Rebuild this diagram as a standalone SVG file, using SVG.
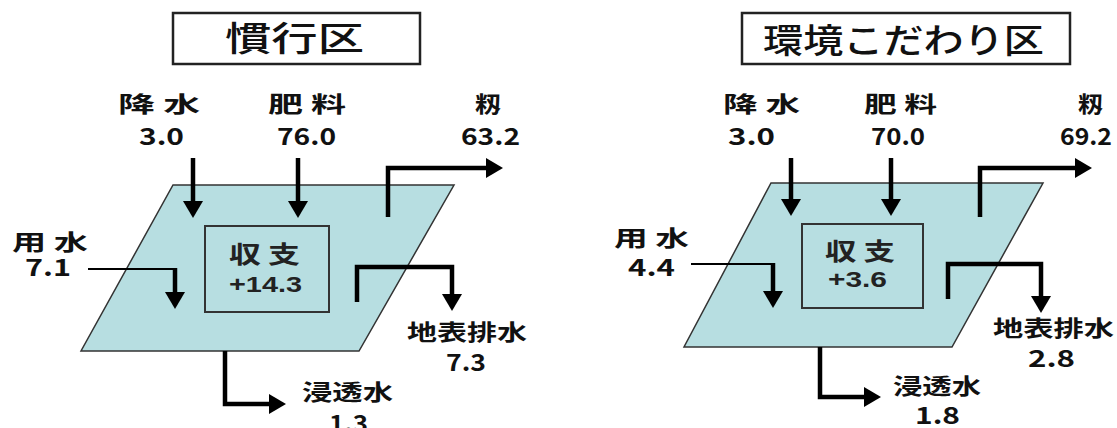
<svg xmlns="http://www.w3.org/2000/svg" width="1117" height="428" viewBox="0 0 1117 428">
<style>
.title{font-family:"Noto Sans CJK JP","Noto Sans",sans-serif;font-size:34px;font-weight:500;fill:#111}
.lbl{font-family:"Noto Sans CJK JP","Noto Sans",sans-serif;font-size:22px;font-weight:700;fill:#111}
.num{font-family:"Noto Sans CJK JP","Noto Sans",sans-serif;font-size:23px;font-weight:700;fill:#111}
.bal{font-family:"Noto Sans CJK JP","Noto Sans",sans-serif;font-size:24px;font-weight:700;fill:#222}
.balnum{font-family:"Liberation Sans",Arial,sans-serif;font-size:22px;font-weight:700;fill:#222}
.tbox{fill:#fff;stroke:#222;stroke-width:2.5}
.field{fill:#b7dee1;stroke:#333;stroke-width:1.5}
.ibox{fill:none;stroke:#333;stroke-width:2}
.arr{fill:none;stroke:#000;stroke-width:4.5;stroke-linejoin:miter;marker-end:url(#ah)}
.thin{fill:none;stroke:#000;stroke-width:2.2}
</style>
<defs>
<marker id="ah" markerUnits="userSpaceOnUse" markerWidth="18" markerHeight="20" refX="1" refY="10" orient="auto">
<path d="M0,0 L17,10 L0,20 z" fill="#000"/>
</marker>
</defs>

<g id="left-title">
<rect class="tbox" x="173" y="13" width="247" height="51"/>
<text class="title" x="225" y="51" textLength="139" lengthAdjust="spacingAndGlyphs">慣行区</text>
</g>
<g id="left-field">
<polygon class="field" points="173,185 454,185 359,351 81,351"/>
</g>
<g id="left-balance">
<rect class="ibox" x="205" y="226" width="124" height="86"/>
<text class="bal" x="229" y="263" textLength="71" lengthAdjust="spacingAndGlyphs">収 支</text>
<text class="balnum" x="229" y="292" textLength="73" lengthAdjust="spacingAndGlyphs">+14.3</text>
</g>
<g id="left-rain">
<text class="lbl" x="118" y="112" textLength="82" lengthAdjust="spacingAndGlyphs">降 水</text>
<text class="num" x="139" y="145" textLength="45" lengthAdjust="spacingAndGlyphs">3.0</text>
</g>
<g id="left-fert">
<text class="lbl" x="268" y="112" textLength="78" lengthAdjust="spacingAndGlyphs">肥 料</text>
<text class="num" x="277" y="145" textLength="59" lengthAdjust="spacingAndGlyphs">76.0</text>
</g>
<g id="left-rice">
<text class="lbl" x="475" y="112" textLength="26" lengthAdjust="spacingAndGlyphs">籾</text>
<text class="num" x="461" y="145" textLength="59" lengthAdjust="spacingAndGlyphs">63.2</text>
</g>
<g id="left-irr">
<text class="lbl" x="12" y="250" textLength="76" lengthAdjust="spacingAndGlyphs">用 水</text>
<text class="num" x="25" y="276" textLength="46" lengthAdjust="spacingAndGlyphs">7.1</text>
</g>
<g id="left-drain">
<text class="lbl" x="407" y="340" textLength="120" lengthAdjust="spacingAndGlyphs">地表排水</text>
<text class="num" x="446" y="371" textLength="40" lengthAdjust="spacingAndGlyphs">7.3</text>
</g>
<g id="left-perc">
<text class="lbl" x="302" y="400" textLength="91" lengthAdjust="spacingAndGlyphs">浸透水</text>
<text class="num" x="329" y="432" textLength="39" lengthAdjust="spacingAndGlyphs">1.3</text>
</g>

<g id="right-title">
<rect class="tbox" x="742" y="13" width="328" height="51"/>
<text class="title" x="763" y="53" textLength="281" lengthAdjust="spacingAndGlyphs">環境こだわり区</text>
</g>
<g id="right-field">
<polygon class="field" points="771,183 1043,183 952,347 684,347"/>
</g>
<g id="right-balance">
<rect class="ibox" x="802" y="224" width="121" height="84"/>
<text class="bal" x="825" y="260" textLength="70" lengthAdjust="spacingAndGlyphs">収 支</text>
<text class="balnum" x="828" y="287" textLength="59" lengthAdjust="spacingAndGlyphs">+3.6</text>
</g>
<g id="right-rain">
<text class="lbl" x="723" y="112" textLength="77" lengthAdjust="spacingAndGlyphs">降 水</text>
<text class="num" x="728" y="145" textLength="47" lengthAdjust="spacingAndGlyphs">3.0</text>
</g>
<g id="right-fert">
<text class="lbl" x="864" y="112" textLength="73" lengthAdjust="spacingAndGlyphs">肥 料</text>
<text class="num" x="871" y="145" textLength="54" lengthAdjust="spacingAndGlyphs">70.0</text>
</g>
<g id="right-rice">
<text class="lbl" x="1078" y="112" textLength="25" lengthAdjust="spacingAndGlyphs">籾</text>
<text class="num" x="1060" y="145" textLength="52" lengthAdjust="spacingAndGlyphs">69.2</text>
</g>
<g id="right-irr">
<text class="lbl" x="614" y="246" textLength="75" lengthAdjust="spacingAndGlyphs">用 水</text>
<text class="num" x="628" y="276" textLength="47" lengthAdjust="spacingAndGlyphs">4.4</text>
</g>
<g id="right-drain">
<text class="lbl" x="993" y="336" textLength="121" lengthAdjust="spacingAndGlyphs">地表排水</text>
<text class="num" x="1028" y="367" textLength="47" lengthAdjust="spacingAndGlyphs">2.8</text>
</g>
<g id="right-perc">
<text class="lbl" x="893" y="394" textLength="88" lengthAdjust="spacingAndGlyphs">浸透水</text>
<text class="num" x="915" y="424" textLength="45" lengthAdjust="spacingAndGlyphs">1.8</text>
</g>

<g id="connectors">
<path class="arr" d="M193,158 V202"/>
<path class="arr" d="M298,158 V202"/>
<path class="arr" d="M388,217 V168 H487"/>
<path class="thin" d="M88,269 H175"/>
<path class="arr" d="M175,268 V293"/>
<path class="arr" d="M357,302 V267 H452 V295"/>
<path class="arr" d="M225,351 V404 H270"/>

<path class="arr" d="M791,158 V200"/>
<path class="arr" d="M891,158 V200"/>
<path class="arr" d="M980,217 V168 H1076"/>
<path class="thin" d="M691,264 H773"/>
<path class="arr" d="M773,263 V292"/>
<path class="arr" d="M948,299 V264 H1041 V297"/>
<path class="arr" d="M820,347 V397 H865"/>
</g>
</svg>
